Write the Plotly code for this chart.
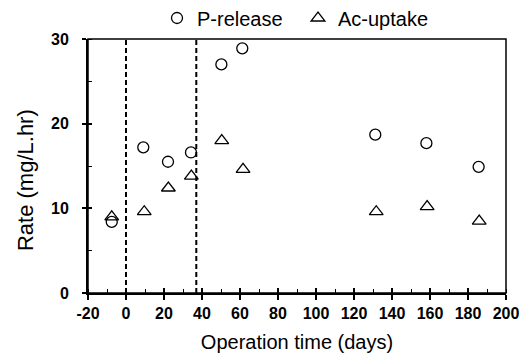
import plotly.graph_objects as go

# Data
p_days = [-7.5, 9.1, 22.1, 34.2, 50.2, 61.2, 131.2, 158.1, 185.6]
p_release = [8.4, 17.2, 15.5, 16.6, 27.0, 28.9, 18.7, 17.7, 14.9]
ac_days = [-7.5, 9.6, 22.3, 34.4, 50.4, 61.6, 131.7, 158.5, 185.9]
ac_uptake = [9.0, 9.6, 12.4, 13.8, 18.0, 14.6, 9.6, 10.2, 8.5]
phase_lines = [0, 37]
x_range = [-20, 200]
y_range = [0, 30]
x_ticks = [-20, 0, 20, 40, 60, 80, 100, 120, 140, 160, 180, 200]
x_tick_labels = ["-20", "0", "20", "40", "60", "80", "100", "120", "140", "160", "180", "200"]
y_ticks = [0, 10, 20, 30]
y_tick_labels = ["0", "10", "20", "30"]

FONT = "Liberation Sans, Arial, sans-serif"

fig = go.Figure()
fig.add_trace(go.Scatter(
    x=p_days, y=p_release, mode="markers", name="P-release",
    marker=dict(symbol="circle-open", size=11, color="black", line=dict(width=1.3, color="black")),
))
fig.add_trace(go.Scatter(
    x=ac_days, y=ac_uptake, mode="markers", name="Ac-uptake",
    marker=dict(symbol="triangle-up-open", size=12, color="black", line=dict(width=1.3, color="black")),
))
# empty helper trace so the overlay axes (inner half of crossing ticks) are drawn
fig.add_trace(go.Scatter(x=[None], y=[None], xaxis="x2", yaxis="y2", mode="markers",
                         showlegend=False, hoverinfo="skip"))

for xv in phase_lines:
    fig.add_shape(type="line", xref="x", yref="y", x0=xv, x1=xv, y0=y_range[0], y1=y_range[1],
                  line=dict(color="black", width=2, dash="5px,3px"))

# box border (top/right)
fig.add_shape(type="rect", xref="paper", yref="paper", x0=0, x1=1, y0=0, y1=1,
              line=dict(color="black", width=1.5))

fig.update_layout(
    width=524, height=358,
    margin=dict(l=88, r=18, t=39, b=65, autoexpand=False),
    paper_bgcolor="white", plot_bgcolor="white",
    font=dict(family=FONT, color="black"),
    showlegend=True,
    legend=dict(orientation="h", xref="container", yref="container",
                x=157 / 524, xanchor="left", y=1 - 18 / 358, yanchor="middle",
                font=dict(size=20, family=FONT, color="black"), bgcolor="rgba(0,0,0,0)",
                entrywidth=96, itemsizing="trace"),
    xaxis=dict(range=x_range, tickvals=x_ticks, ticktext=x_tick_labels, showgrid=False, zeroline=False,
               showline=True, linecolor="black", linewidth=2, automargin=False,
               ticks="outside", ticklen=5, tickwidth=1.5, tickcolor="black",
               minor=dict(ticks="inside", dtick=10, ticklen=4, tickwidth=1.2, tickcolor="black"),
               tickfont=dict(size=16, family=FONT, color="black", weight="bold"),
               title=dict(text="Operation time (days)", font=dict(size=20, family=FONT, color="black"), standoff=14)),
    xaxis2=dict(range=x_range, overlaying="x", side="bottom", anchor="y", tickvals=x_ticks,
                showgrid=False, zeroline=False, showline=False, showticklabels=False, automargin=False,
                ticks="inside", ticklen=5, tickwidth=1.5, tickcolor="black"),
    yaxis=dict(range=y_range, tickvals=y_ticks, ticktext=y_tick_labels, showgrid=False, zeroline=False,
               showline=True, linecolor="black", linewidth=2, automargin=False,
               ticks="outside", ticklen=4, tickwidth=1.5, tickcolor="black",
               minor=dict(ticks="inside", dtick=5, ticklen=4, tickwidth=1.2, tickcolor="black"),
               tickfont=dict(size=16, family=FONT, color="black", weight="bold"),
               ticklabelstandoff=10),
    yaxis2=dict(range=y_range, overlaying="y", side="left", anchor="x", tickvals=y_ticks,
                showgrid=False, zeroline=False, showline=False, showticklabels=False, automargin=False,
                ticks="inside", ticklen=4, tickwidth=1.5, tickcolor="black"),
    annotations=[dict(text="Rate (mg/L.hr)", textangle=-90, xref="paper", yref="paper",
                      x=(25 - 88) / 418, y=(292.5 - 180) / 253, xanchor="center", yanchor="middle",
                      showarrow=False, font=dict(size=22, family=FONT, color="black"))],
)

fig.write_html("out.html")
